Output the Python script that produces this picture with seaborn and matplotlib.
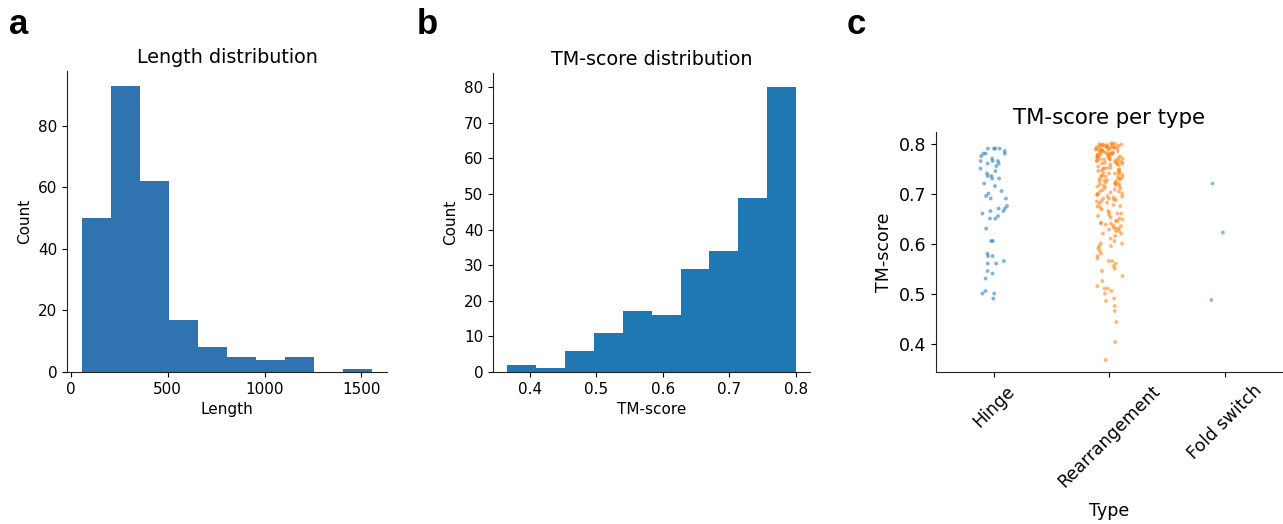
import numpy as np
import pandas as pd
import matplotlib.pyplot as plt
import seaborn as sns

# Panel a: length histogram (bin edges and counts)
LENGTH_EDGES = [55, 205, 355, 505, 655, 805, 955, 1105, 1255, 1405, 1557]
LENGTH_COUNTS = [50, 93, 62, 17, 8, 5, 4, 5, 0, 1]

# Panel b: TM-score histogram
TM_EDGES = [0.366, 0.409, 0.453, 0.496, 0.540, 0.583, 0.627, 0.670, 0.713, 0.757, 0.800]
TM_COUNTS = [2, 1, 6, 11, 17, 16, 29, 34, 49, 80]

# Panel c: TM-score per type
TYPES = ["Hinge", "Rearrangement", "Fold switch"]
HINGE_TM = [
    0.79, 0.79, 0.79, 0.79, 0.785, 0.78, 0.78, 0.78, 0.775, 0.77,
    0.765, 0.765, 0.765, 0.76, 0.76, 0.755, 0.75, 0.745, 0.74, 0.735,
    0.735, 0.73, 0.73, 0.72, 0.715, 0.705, 0.70, 0.695, 0.69, 0.69,
    0.675, 0.67, 0.67, 0.665, 0.665, 0.66, 0.655, 0.65, 0.65, 0.63,
    0.605, 0.605, 0.58, 0.575, 0.575, 0.565, 0.56, 0.56, 0.545, 0.54,
    0.53, 0.505, 0.50, 0.50, 0.49,
]
REARR_TM = [
    0.367, 0.403, 0.443, 0.465, 0.475, 0.485, 0.49,
    0.50, 0.505, 0.51, 0.51, 0.515, 0.525, 0.535,
    0.545, 0.55, 0.555, 0.56, 0.565, 0.565, 0.57, 0.575, 0.58,
    0.585, 0.59, 0.595, 0.595, 0.60, 0.60, 0.605, 0.61, 0.615, 0.62, 0.62, 0.625, 0.625,
    0.628, 0.63, 0.63, 0.632, 0.635, 0.636, 0.638, 0.64, 0.64, 0.642, 0.645,
    0.645, 0.648, 0.65, 0.652, 0.655, 0.657, 0.66, 0.66, 0.662, 0.665, 0.668,
    0.672, 0.674, 0.675, 0.677, 0.68, 0.682, 0.684, 0.685, 0.687, 0.688, 0.69,
    0.69, 0.692, 0.694, 0.695, 0.697, 0.698, 0.70, 0.70, 0.702, 0.704, 0.705,
    0.707, 0.708, 0.71, 0.712,
    0.714, 0.715, 0.716, 0.717, 0.718, 0.72, 0.72, 0.721, 0.722, 0.724,
    0.725, 0.726, 0.727, 0.728, 0.73, 0.73, 0.731, 0.732, 0.734, 0.735,
    0.736, 0.737, 0.738, 0.74, 0.74, 0.741, 0.742, 0.744, 0.745, 0.746,
    0.747, 0.748, 0.75, 0.75, 0.751, 0.752, 0.754, 0.756,
    0.758, 0.759, 0.76, 0.76, 0.761, 0.762, 0.763, 0.764, 0.765, 0.765,
    0.766, 0.767, 0.768, 0.768, 0.769, 0.77, 0.77, 0.771, 0.772, 0.772,
    0.773, 0.774, 0.775, 0.775, 0.776, 0.777, 0.778, 0.778, 0.779, 0.78,
    0.78, 0.781, 0.782, 0.782, 0.783, 0.784, 0.785, 0.785, 0.786, 0.787,
    0.788, 0.788, 0.789, 0.79, 0.79, 0.791, 0.791, 0.792, 0.792, 0.793,
    0.793, 0.794, 0.794, 0.795, 0.795, 0.796, 0.796, 0.797, 0.797, 0.798,
    0.798, 0.799, 0.799, 0.8, 0.8,
]
FOLD_TM = [0.72, 0.622, 0.487]


def histPanel(ax, edges, counts, color, title, xlabel, fs):
    centers = [(edges[i] + edges[i + 1]) / 2 for i in range(len(counts))]
    sns.histplot(x=centers, weights=counts, bins=edges, ax=ax,
                 color=color, alpha=1, linewidth=0)
    ax.set_title(title, fontsize=13.8)
    ax.set_xlabel(xlabel, fontsize=fs)
    ax.set_ylabel("Count", fontsize=fs)
    ax.tick_params(labelsize=fs)
    sns.despine(ax=ax)


def main():
    sns.set_style("ticks")
    plt.rcParams.update({
        "text.color": "black",
        "axes.labelcolor": "black",
        "xtick.color": "black",
        "ytick.color": "black",
        "axes.edgecolor": "#222222",
    })
    np.random.seed(3)

    fig = plt.figure(figsize=(12.83, 5.24), dpi=100)
    axA = fig.add_axes([0.0522, 0.290, 0.2494, 0.574])
    axB = fig.add_axes([0.3843, 0.290, 0.2471, 0.571])
    axC = fig.add_axes([0.7295, 0.290, 0.2705, 0.458])

    histPanel(axA, LENGTH_EDGES, LENGTH_COUNTS, "#2f74b1",
              "Length distribution", "Length", 11)
    axA.set_yticks([0, 20, 40, 60, 80])

    histPanel(axB, TM_EDGES, TM_COUNTS, "#1f77b4",
              "TM-score distribution", "TM-score", 11)

    # Panel c: strip plot
    df = pd.DataFrame({
        "Type": (["Hinge"] * len(HINGE_TM) + ["Rearrangement"] * len(REARR_TM)
                 + ["Fold switch"] * len(FOLD_TM)),
        "TM-score": HINGE_TM + REARR_TM + FOLD_TM,
    })
    sns.stripplot(data=df, x="Type", y="TM-score", hue="Type", order=TYPES,
                  palette=["#1f77b4", "#ff7f0e", "#2ca02c"], size=2.8,
                  alpha=0.55, jitter=0.12, legend=False, ax=axC)
    axC.set_title("TM-score per type", fontsize=15.3)
    axC.set_xlabel("Type", fontsize=12.5, labelpad=8)
    axC.set_ylabel("TM-score", fontsize=12.5)
    axC.tick_params(labelsize=12.5)
    axC.set_yticks([0.4, 0.5, 0.6, 0.7, 0.8])
    axC.set_ylim(0.343, 0.823)
    axC.set_xlim(-0.5, 2.5)
    for lbl in axC.get_xticklabels():
        lbl.set_rotation(45)
    sns.despine(ax=axC)

    # Panel letters
    for x, letter in [(0.007, "a"), (0.325, "b"), (0.66, "c")]:
        fig.text(x, 0.935, letter, fontsize=25, fontweight="bold",
                 family="Liberation Sans", color="black")

    plt.savefig("out.png", dpi=100)


if __name__ == "__main__":
    main()
